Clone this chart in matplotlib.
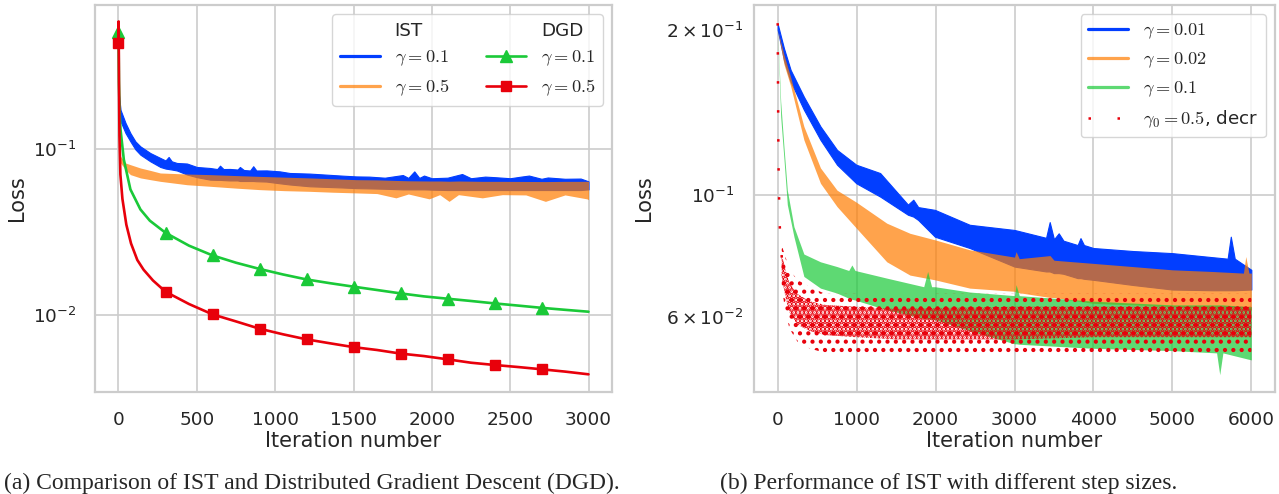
import matplotlib
matplotlib.use("Agg")
import matplotlib.pyplot as plt
import seaborn as sns
from matplotlib.lines import Line2D

# ---------------- panel (a): IST vs DGD ----------------
ist01_it = [0, 3, 13, 45, 76, 108, 140, 203, 267, 300, 320, 340, 373, 437, 500, 585, 630, 648, 670,
            712, 760, 775, 800, 840, 860, 880, 945, 1030, 1093, 1220, 1326, 1432, 1517, 1600, 1700,
            1815, 1850, 1888, 1920, 1950, 2000, 2100, 2193, 2250, 2340, 2400, 2500, 2570, 2620, 2700,
            2740, 2850, 2950, 3000]
ist01_hi = [0.45, 0.21, 0.171, 0.1426, 0.124, 0.1106, 0.1032, 0.0942, 0.088, 0.085, 0.0892, 0.084,
            0.0821, 0.0815, 0.0777, 0.0766, 0.0755, 0.0791, 0.0755, 0.0756, 0.075, 0.0777, 0.0745,
            0.074, 0.0785, 0.074, 0.0741, 0.0731, 0.0715, 0.0709, 0.0699, 0.0689, 0.0682, 0.068,
            0.067, 0.0695, 0.0668, 0.0731, 0.0668, 0.069, 0.0665, 0.067, 0.0705, 0.0665, 0.068,
            0.0675, 0.0665, 0.068, 0.069, 0.066, 0.0672, 0.066, 0.0662, 0.0637]
ist01_lo = [0.45, 0.19, 0.146, 0.124, 0.1106, 0.099, 0.092, 0.084, 0.0777, 0.076, 0.0755, 0.075,
            0.074, 0.070, 0.0675, 0.0652, 0.065, 0.065, 0.0648, 0.0645, 0.0645, 0.064, 0.064, 0.064,
            0.064, 0.0638, 0.0635, 0.062, 0.061, 0.0595, 0.059, 0.0585, 0.058, 0.0578, 0.0575,
            0.057, 0.057, 0.057, 0.057, 0.057, 0.0568, 0.0565, 0.0565, 0.0565, 0.0565, 0.0565,
            0.0565, 0.0565, 0.0565, 0.0565, 0.0565, 0.0565, 0.0565, 0.057]

ist05_it = [0, 3, 8, 13, 45, 76, 140, 203, 267, 437, 585, 750, 903, 1060, 1220, 1370, 1517, 1650,
            1771, 1850, 1983, 2050, 2110, 2170, 2322, 2450, 2600, 2725, 2850, 2990, 3000]
ist05_hi = [0.45, 0.16, 0.105, 0.090, 0.0821, 0.0802, 0.0766, 0.0741, 0.0715, 0.0705, 0.0699, 0.069,
            0.0682, 0.0675, 0.0668, 0.066, 0.0652, 0.065, 0.0645, 0.0642, 0.064, 0.064, 0.0638,
            0.064, 0.0637, 0.0637, 0.0636, 0.0635, 0.0637, 0.0637, 0.0637]
ist05_lo = [0.45, 0.14, 0.095, 0.0821, 0.0748, 0.0699, 0.0668, 0.0652, 0.0637, 0.0608, 0.0595, 0.058,
            0.0568, 0.056, 0.0555, 0.0548, 0.0543, 0.0538, 0.0507, 0.0535, 0.050, 0.053, 0.0483,
            0.053, 0.0507, 0.053, 0.0528, 0.0483, 0.0528, 0.050, 0.0495]

dgd01_it = [0, 3, 8, 13, 34, 76, 140, 200, 300, 450, 600, 750, 900, 1050, 1200, 1350, 1500, 1650,
            1800, 1950, 2100, 2250, 2400, 2550, 2700, 2850, 3000]
dgd01_val = [0.50, 0.25, 0.16, 0.13, 0.086, 0.057, 0.0432, 0.037, 0.0313, 0.0262, 0.0229, 0.0207,
             0.0190, 0.0176, 0.01643, 0.0156, 0.01487, 0.0142, 0.01355, 0.0130, 0.01259, 0.0122,
             0.0118, 0.01145, 0.0111, 0.0108, 0.01052]

dgd05_it = [0, 1, 3, 6, 12, 25, 50, 80, 120, 160, 220, 300, 450, 600, 750, 900, 1050, 1200, 1350,
            1500, 1650, 1800, 1950, 2100, 2250, 2400, 2550, 2700, 2850, 3000]
dgd05_val = [0.43, 0.58, 0.25, 0.12, 0.07, 0.05, 0.035, 0.027, 0.0215, 0.0188, 0.0162, 0.01387,
             0.0117, 0.01014, 0.0092, 0.00832, 0.0077, 0.00718, 0.0068, 0.00645, 0.0062, 0.0059,
             0.0057, 0.00545, 0.0052, 0.00504, 0.0049, 0.00475, 0.0046, 0.00443]

marker_its = [0, 300, 600, 900, 1200, 1500, 1800, 2100, 2400, 2700]

# ---------------- panel (b): IST step sizes ----------------
g001_it = [0, 80, 164, 332, 542, 752, 996, 1298, 1650, 1718, 1780, 1992, 2433, 3000, 3400, 3446,
           3500, 3560, 3620, 3800, 3836, 3880, 4000, 4500, 5000, 5500, 5700, 5740, 5790, 6000]
g001_hi = [0.205, 0.185, 0.169, 0.151, 0.1333, 0.1208, 0.1135, 0.1096, 0.096, 0.098, 0.095, 0.0939,
           0.0882, 0.0863, 0.0835, 0.0892, 0.083, 0.0851, 0.0825, 0.081, 0.0834, 0.081, 0.080,
           0.079, 0.0783, 0.077, 0.0765, 0.0839, 0.0765, 0.073]
g001_lo = [0.200, 0.176, 0.161, 0.143, 0.126, 0.1135, 0.105, 0.0993, 0.092, 0.0913, 0.090, 0.0839,
           0.080, 0.074, 0.0725, 0.0725, 0.072, 0.072, 0.0718, 0.0705, 0.0705, 0.0703, 0.070,
           0.0685, 0.0672, 0.067, 0.067, 0.067, 0.067, 0.0672]

g002_it = [0, 80, 164, 332, 542, 752, 996, 1382, 1676, 1992, 2433, 3000, 3020, 3060, 3450, 3500,
           4000, 4500, 5000, 5500, 5900, 5930, 5970, 6000]
g002_hi = [0.200, 0.180, 0.164, 0.1333, 0.112, 0.102, 0.097, 0.0888, 0.0851, 0.0828, 0.0794, 0.077,
           0.0788, 0.0765, 0.0775, 0.076, 0.075, 0.074, 0.073, 0.0725, 0.072, 0.0772, 0.072, 0.072]
g002_lo = [0.200, 0.173, 0.158, 0.126, 0.105, 0.0952, 0.087, 0.0755, 0.0714, 0.070, 0.0676, 0.0667,
           0.0665, 0.0663, 0.065, 0.065, 0.0634, 0.063, 0.0625, 0.062, 0.0618, 0.0618, 0.0617, 0.0617]

g01_it = [0, 38, 80, 122, 206, 332, 542, 752, 900, 940, 980, 1382, 1850, 1900, 1950, 1992, 2433,
          3000, 3020, 3060, 4000, 5000, 5560, 5600, 5640, 6000]
g01_hi = [0.200, 0.148, 0.122, 0.102, 0.0875, 0.078, 0.0755, 0.074, 0.0728, 0.0745, 0.0728, 0.0705,
          0.068, 0.0725, 0.068, 0.068, 0.0665, 0.0655, 0.0686, 0.0655, 0.064, 0.063, 0.063, 0.063,
          0.063, 0.0625]
g01_lo = [0.200, 0.139, 0.116, 0.096, 0.0839, 0.071, 0.0676, 0.0662, 0.0648, 0.0645, 0.0643, 0.0617,
          0.0595, 0.0594, 0.0593, 0.0592, 0.0565, 0.0535, 0.0535, 0.0534, 0.0525, 0.052, 0.0515,
          0.047, 0.0515, 0.050]

decr_early_it = [0, 2, 4, 6, 8, 11, 14, 17, 20, 25, 32, 40, 48, 55]
decr_early_val = [0.2057, 0.1826, 0.1614, 0.1433, 0.1269, 0.1126, 0.1065, 0.100, 0.0952, 0.0888,
                  0.0839, 0.0805, 0.0783, 0.076]
decr_it = [50, 100, 150, 250, 400, 600, 1000, 1500, 2000, 3000, 4000, 5000, 6000]
decr_core_hi = [0.078, 0.073, 0.069, 0.066, 0.064, 0.063, 0.0625, 0.062, 0.0622, 0.0625, 0.0625, 0.0625, 0.0625]
decr_core_lo = [0.071, 0.065, 0.061, 0.058, 0.0565, 0.0555, 0.055, 0.0545, 0.0545, 0.0545, 0.055, 0.055, 0.055]
decr_out_hi = [0.081, 0.077, 0.073, 0.070, 0.068, 0.066, 0.066, 0.0655, 0.066, 0.066, 0.066, 0.066, 0.066]
decr_out_lo = [0.068, 0.061, 0.057, 0.054, 0.0525, 0.0515, 0.051, 0.051, 0.051, 0.051, 0.051, 0.051, 0.051]

# ---------------- style ----------------
sns.set_theme(style="whitegrid")
plt.rcParams['font.family'] = ['DejaVu Sans']
plt.rcParams['mathtext.fontset'] = 'cm'

BLUE = '#023eff'
ORANGE = '#ff7c00'
GREEN = '#1ac938'
RED = '#e8000b'
TICK_FS = 13.3
LAB_FS = 15
LEG_FS = 13.2

fig = plt.figure(figsize=(12.79, 4.94), dpi=100)
ax1 = fig.add_axes([95 / 1279, 1 - 392 / 494, 517 / 1279, 387 / 494])
ax2 = fig.add_axes([754 / 1279, 1 - 392 / 494, 521 / 1279, 387 / 494])

for ax in (ax1, ax2):
    ax.set_yscale('log')
    for s in ax.spines.values():
        s.set_color('#cccccc')
        s.set_linewidth(1.6)
    ax.grid(True, which='major', color='#cccccc', linewidth=1.2)
    ax.set_xlabel('Iteration number', fontsize=LAB_FS, labelpad=1)
    ax.set_ylabel('Loss', fontsize=LAB_FS)

# ---- panel (a)
ax1.fill_between(ist01_it, ist01_lo, ist01_hi, color=BLUE, linewidth=0.8, edgecolor=BLUE)
ax1.fill_between(ist05_it, ist05_lo, ist05_hi, color=ORANGE, alpha=0.7, linewidth=0)
mk01 = [i for i, v in enumerate(dgd01_it) if v in marker_its]
mk05 = [i for i, v in enumerate(dgd05_it) if v in marker_its]
l_g, = ax1.plot(dgd01_it, dgd01_val, color=GREEN, lw=1.9, marker='^', markersize=8, markevery=mk01)
l_r, = ax1.plot(dgd05_it, dgd05_val, color=RED, lw=1.9, marker='s', markersize=7.5, markevery=mk05)
ax1.set_xlim(-150, 3150)
ax1.set_ylim(0.00347, 0.728)
ax1.set_xticks([0, 500, 1000, 1500, 2000, 2500, 3000])
ax1.tick_params(axis='both', which='both', labelsize=TICK_FS)
ax1.tick_params(axis='y', pad=7)
ax1.tick_params(axis='x', pad=8)

hdr = Line2D([], [], linestyle='none', marker=None)
p_b = Line2D([], [], color=BLUE, lw=2.3)
p_o = Line2D([], [], color=ORANGE, alpha=0.7, lw=2.3)
ax1.legend([hdr, p_b, p_o, hdr, l_g, l_r],
           ['IST', r'$\gamma=0.1$', r'$\gamma=0.5$', 'DGD', r'$\gamma=0.1$', r'$\gamma=0.5$'],
           ncol=2, loc='upper right', fontsize=LEG_FS, handlelength=2.2, frameon=True)

# ---- panel (b)
ax2.fill_between(g001_it, g001_lo, g001_hi, color=BLUE, linewidth=0.8, edgecolor=BLUE)
ax2.fill_between(g002_it, g002_lo, g002_hi, color=ORANGE, alpha=0.7, linewidth=0)
ax2.fill_between(g01_it, g01_lo, g01_hi, color=GREEN, alpha=0.7, linewidth=0)
plt.rcParams['hatch.linewidth'] = 1.8
ax2.fill_between(decr_it, decr_out_lo, decr_out_hi, facecolor='none', edgecolor=RED, hatch='..', linewidth=0)
plt.rcParams['hatch.linewidth'] = 2.6
ax2.fill_between(decr_it, decr_core_lo, decr_core_hi, facecolor='none', edgecolor=RED, hatch='....', linewidth=0)
ax2.plot(decr_early_it, decr_early_val, color=RED, lw=1.8, linestyle=(0, (1, 10.6)))
ax2.set_xlim(-300, 6300)
ax2.set_ylim(0.0437, 0.222)
ax2.set_xticks([0, 1000, 2000, 3000, 4000, 5000, 6000])
ax2.tick_params(axis='both', which='both', labelsize=TICK_FS)
ax2.tick_params(axis='y', pad=8)
ax2.tick_params(axis='x', pad=8)

q_b = Line2D([], [], color=BLUE, lw=2.3)
q_o = Line2D([], [], color=ORANGE, alpha=0.7, lw=2.3)
q_g = Line2D([], [], color=GREEN, alpha=0.7, lw=2.3)
q_r = Line2D([], [], color=RED, lw=1.8, linestyle=(0, (1, 10.6)))
ax2.legend([q_b, q_o, q_g, q_r],
           [r'$\gamma=0.01$', r'$\gamma=0.02$', r'$\gamma=0.1$', r'$\gamma_0=0.5$, decr'],
           loc='upper right', fontsize=LEG_FS, handlelength=2.2, frameon=True)

ax1.yaxis.set_label_coords(-0.131, 0.5)
ax2.yaxis.set_label_coords(-0.192, 0.5)

fig.text(312 / 1279, 1 - 483 / 494, '(a) Comparison of IST and Distributed Gradient Descent (DGD).',
         family='Liberation Serif', fontsize=17, ha='center', va='center')
fig.text(949 / 1279, 1 - 483 / 494, '(b) Performance of IST with different step sizes.',
         family='Liberation Serif', fontsize=17, ha='center', va='center')

fig.savefig('out.png', dpi=100)
